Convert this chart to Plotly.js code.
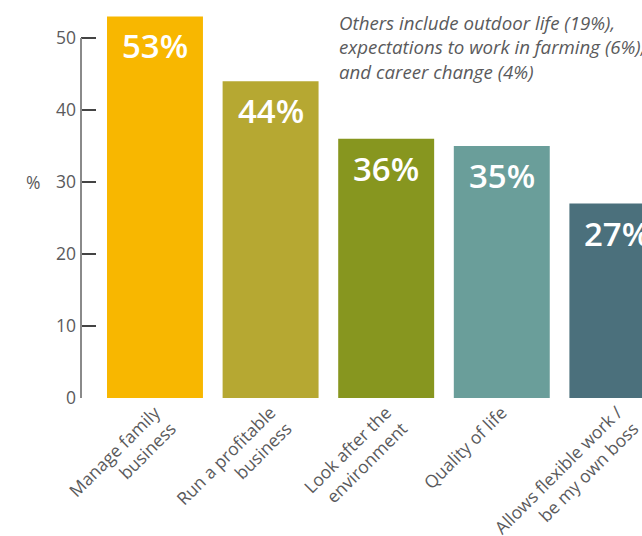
<!DOCTYPE html>
<html>
<head>
<meta charset="utf-8">
<script src="https://cdn.plot.ly/plotly-3.0.1.min.js"></script>
<style>html,body{margin:0;padding:0;background:#fff;}#chart{width:642px;height:536px;}</style>
</head>
<body>
<div id="chart"></div>
<script>
const categories = [
  "Manage family<br>business",
  "Run a profitable<br>business",
  "Look after the<br>environment",
  "Quality of life",
  "Allows flexible work /<br>be my own boss"
];
const values = [53, 44, 36, 35, 27];
const valueLabels = ["53%", "44%", "36%", "35%", "27%"];
const barColors = ["#F8B700", "#B6A832", "#87961F", "#6A9E9A", "#4B707C"];
const yTicks = [0, 10, 20, 30, 40, 50];
const noteText = "Others include outdoor life (19%),<br>expectations to work in farming (6%),<br>and career change (4%)";

const grey = "#5A5A5C";
const fontFam = "'Open Sans', 'Noto Sans', sans-serif";

const trace = {
  type: "bar",
  x: categories,
  y: values,
  marker: { color: barColors, line: { width: 0 } },
  hoverinfo: "none"
};

const annotations = categories.map((c, i) => ({
  x: c, y: values[i], xref: "x", yref: "y",
  text: valueLabels[i], showarrow: false,
  xanchor: "center", yanchor: "top", yshift: -5,
  font: { family: fontFam, size: 33, color: "#ffffff", weight: 600 }
}));
annotations.push({
  xref: "paper", yref: "paper", x: 0.456, y: 0.985,
  xanchor: "left", yanchor: "top", align: "left", showarrow: false,
  text: "<i>" + noteText + "</i>",
  font: { family: fontFam, size: 18.7, color: grey }
});
annotations.push({
  xref: "paper", yref: "y", x: -0.07, y: 30,
  xanchor: "right", yanchor: "middle", showarrow: false,
  text: "%", font: { family: fontFam, size: 17.5, color: grey }
});

const layout = {
  width: 642, height: 536, autosize: false,
  margin: { l: 81, r: 0, t: 2, b: 138, pad: 0 },
  paper_bgcolor: "#ffffff", plot_bgcolor: "#ffffff",
  showlegend: false,
  bargap: 0.17,
  font: { family: fontFam, color: grey },
  xaxis: {
    type: "category",
    range: [-0.64, 4.213],
    showline: false, showgrid: false, zeroline: false,
    ticks: "", tickangle: -45,
    tickfont: { family: fontFam, size: 17.5, color: grey },
    fixedrange: true
  },
  yaxis: {
    range: [0, 55],
    tickvals: yTicks,
    ticktext: yTicks.map(String),
    showline: false,
    ticks: "inside", ticklen: 15, tickwidth: 1.2, tickcolor: "#444444",
    ticklabelstandoff: 4,
    showgrid: false, zeroline: false,
    tickfont: { family: fontFam, size: 17.5, color: grey },
    fixedrange: true
  },
  shapes: [{
    type: "line", xref: "paper", yref: "y",
    x0: 0, x1: 0, y0: yTicks[0], y1: yTicks[yTicks.length - 1],
    line: { color: "#8a8a8a", width: 2 }, layer: "above"
  }],
  annotations: annotations
};

Plotly.newPlot("chart", [trace], layout, { displayModeBar: false, staticPlot: true });
</script>
</body>
</html>
